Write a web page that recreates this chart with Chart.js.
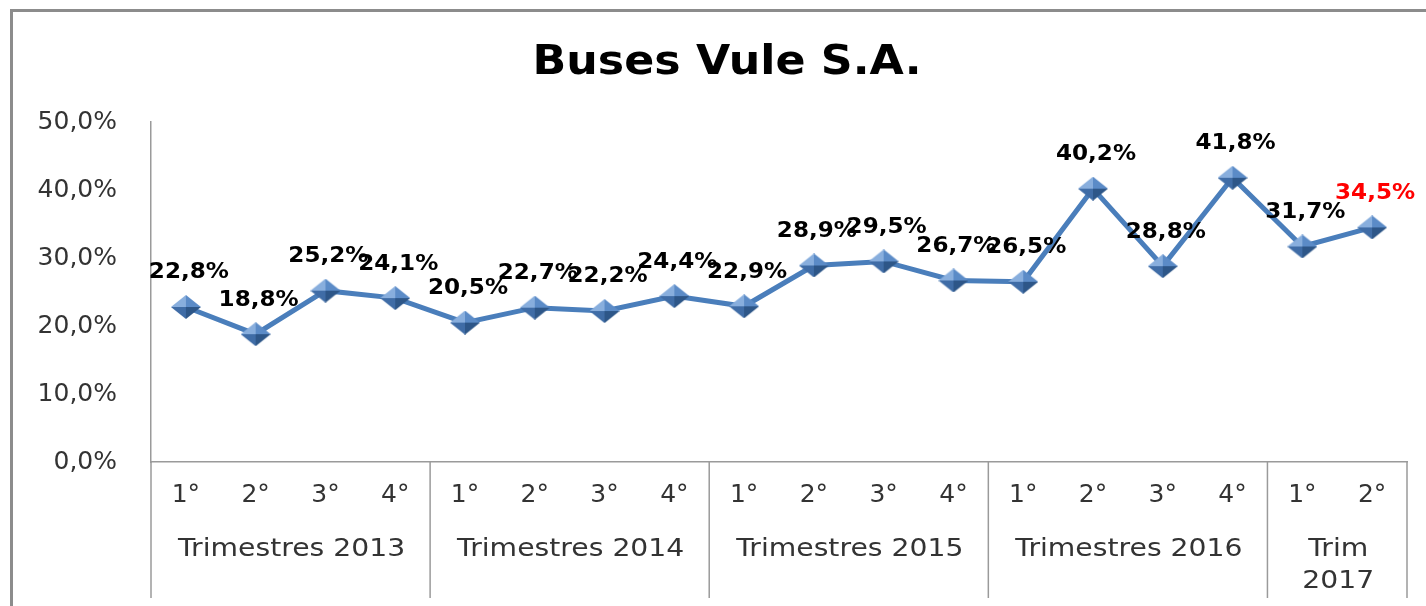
<!DOCTYPE html>
<html>
<head>
<meta charset="utf-8">
<script src="https://cdn.jsdelivr.net/npm/chart.js@4/dist/chart.umd.min.js"></script>
<style>
  html, body { margin: 0; padding: 0; background: #fff; }
  #wrap { position: relative; width: 1426px; height: 606px; }
</style>
</head>
<body>
<div id="wrap"><canvas id="grafico" width="1426" height="606"></canvas></div>
<script>
const titulo = 'Buses Vule S.A.';
const trimestres = ['1°', '2°', '3°', '4°', '1°', '2°', '3°', '4°', '1°', '2°', '3°', '4°', '1°', '2°', '3°', '4°', '1°', '2°'];
const valores = [22.8, 18.8, 25.2, 24.1, 20.5, 22.7, 22.2, 24.4, 22.9, 28.9, 29.5, 26.7, 26.5, 40.2, 28.8, 41.8, 31.7, 34.5];
const grupos = [['Trimestres 2013'], ['Trimestres 2014'], ['Trimestres 2015'], ['Trimestres 2016'], ['Trim', '2017']];
const tamanhoGrupos = [4, 4, 4, 4, 2];
const ticksY = [0, 10, 20, 30, 40, 50];

const fmt = v => v.toFixed(1).replace('.', ',') + '%';

// texto esticado na horizontal, como no original
function textoLargo(ctx, texto, x, y, esticar) {
    ctx.save();
    ctx.translate(x, y);
    ctx.scale(esticar, 1);
    ctx.fillText(texto, 0, 0);
    ctx.restore();
}

// marcador em forma de diamante com aspecto 3D
function criarMarcador() {
    const c = document.createElement('canvas');
    const w = 30, h = 24;
    c.width = w; c.height = h;
    const g = c.getContext('2d');
    const cx = w / 2, cy = h / 2;
    const faces = [
        [[0, cy], [cx, 0], '#88aedd'],
        [[cx, 0], [w, cy], '#5b8bc7'],
        [[w, cy], [cx, h], '#2d5688'],
        [[cx, h], [0, cy], '#3f6ca6']
    ];
    faces.forEach(([a, b, cor]) => {
        g.beginPath();
        g.moveTo(cx, cy);
        g.lineTo(a[0], a[1]);
        g.lineTo(b[0], b[1]);
        g.closePath();
        g.fillStyle = cor;
        g.fill();
    });
    return c;
}

const pluginMoldura = {
    id: 'moldura',
    beforeDraw(chart) {
        const ctx = chart.ctx;
        ctx.save();
        ctx.fillStyle = '#ffffff';
        ctx.fillRect(0, 0, chart.width, chart.height);
        ctx.strokeStyle = '#8c8c8c';
        ctx.lineWidth = 3;
        ctx.beginPath();
        ctx.moveTo(11.5, chart.height);
        ctx.lineTo(11.5, 10.5);
        ctx.lineTo(chart.width, 10.5);
        ctx.stroke();
        ctx.fillStyle = '#000';
        ctx.font = 'bold 41px "DejaVu Sans"';
        ctx.textAlign = 'center';
        ctx.textBaseline = 'middle';
        textoLargo(ctx, titulo, 727, 63, 1.08);
        ctx.restore();
    }
};

const pluginGrupos = {
    id: 'grupos',
    afterDraw(chart) {
        const ctx = chart.ctx;
        const x = chart.scales.x;
        const area = chart.chartArea;
        ctx.save();
        ctx.strokeStyle = '#9a9a9a';
        ctx.lineWidth = 1.5;
        ctx.fillStyle = '#333333';
        ctx.font = '25px "DejaVu Sans"';
        ctx.textAlign = 'center';
        ctx.textBaseline = 'middle';
        let inicio = 0;
        const limite = i => {
            if (i <= 0) return area.left;
            if (i >= trimestres.length) return area.right;
            return (x.getPixelForValue(i - 1) + x.getPixelForValue(i)) / 2;
        };
        tamanhoGrupos.forEach((n, gi) => {
            const esq = limite(inicio);
            const dir = limite(inicio + n);
            ctx.beginPath();
            ctx.moveTo(esq, area.bottom);
            ctx.lineTo(esq, 598);
            ctx.stroke();
            if (gi === tamanhoGrupos.length - 1) {
                ctx.beginPath();
                ctx.moveTo(dir, area.bottom);
                ctx.lineTo(dir, 598);
                ctx.stroke();
            }
            grupos[gi].forEach((linha, li) => {
                textoLargo(ctx, linha, (esq + dir) / 2 + 1, 549 + li * 32, 1.13);
            });
            inicio += n;
        });
        ctx.restore();
    }
};

const pluginRotulos = {
    id: 'rotulos',
    afterDatasetsDraw(chart) {
        const ctx = chart.ctx;
        const meta = chart.getDatasetMeta(0);
        ctx.save();
        ctx.font = 'bold 21px "DejaVu Sans"';
        ctx.textAlign = 'center';
        ctx.textBaseline = 'middle';
        meta.data.forEach((p, i) => {
            ctx.fillStyle = i === valores.length - 1 ? '#ff0000' : '#000000';
            textoLargo(ctx, fmt(valores[i]), p.x + 3, p.y - 34, 1.1);
        });
        ctx.restore();
    }
};

new Chart(document.getElementById('grafico'), {
    type: 'line',
    data: {
        labels: trimestres,
        datasets: [{
            data: valores,
            borderColor: '#4a7ebb',
            borderWidth: 5,
            pointStyle: criarMarcador(),
            pointRadius: 12,
            tension: 0,
            fill: false
        }]
    },
    options: {
        responsive: false,
        animation: false,
        layout: { padding: { top: 122, right: 19, left: 0, bottom: 0 } },
        plugins: {
            legend: { display: false },
            tooltip: { enabled: false },
            title: { display: false }
        },
        scales: {
            x: {
                offset: true,
                grid: { display: false, drawTicks: false },
                border: { display: true, color: '#9a9a9a', width: 1.5 },
                ticks: {
                    color: '#333333',
                    font: { family: 'DejaVu Sans', size: 25 },
                    padding: 18,
                    maxRotation: 0,
                    autoSkip: false
                },
                afterFit: s => { s.height = 144; }
            },
            y: {
                min: 0,
                max: 50,
                afterBuildTicks: s => { s.ticks = ticksY.map(v => ({ value: v })); },
                grid: { display: false, drawTicks: false },
                border: { display: true, color: '#9a9a9a', width: 1.5 },
                ticks: {
                    color: '#333333',
                    font: { family: 'DejaVu Sans', size: 25 },
                    padding: 34,
                    callback: v => fmt(v)
                },
                afterFit: s => { s.width = 151; }
            }
        }
    },
    plugins: [pluginMoldura, pluginGrupos, pluginRotulos]
});
</script>
</body>
</html>
